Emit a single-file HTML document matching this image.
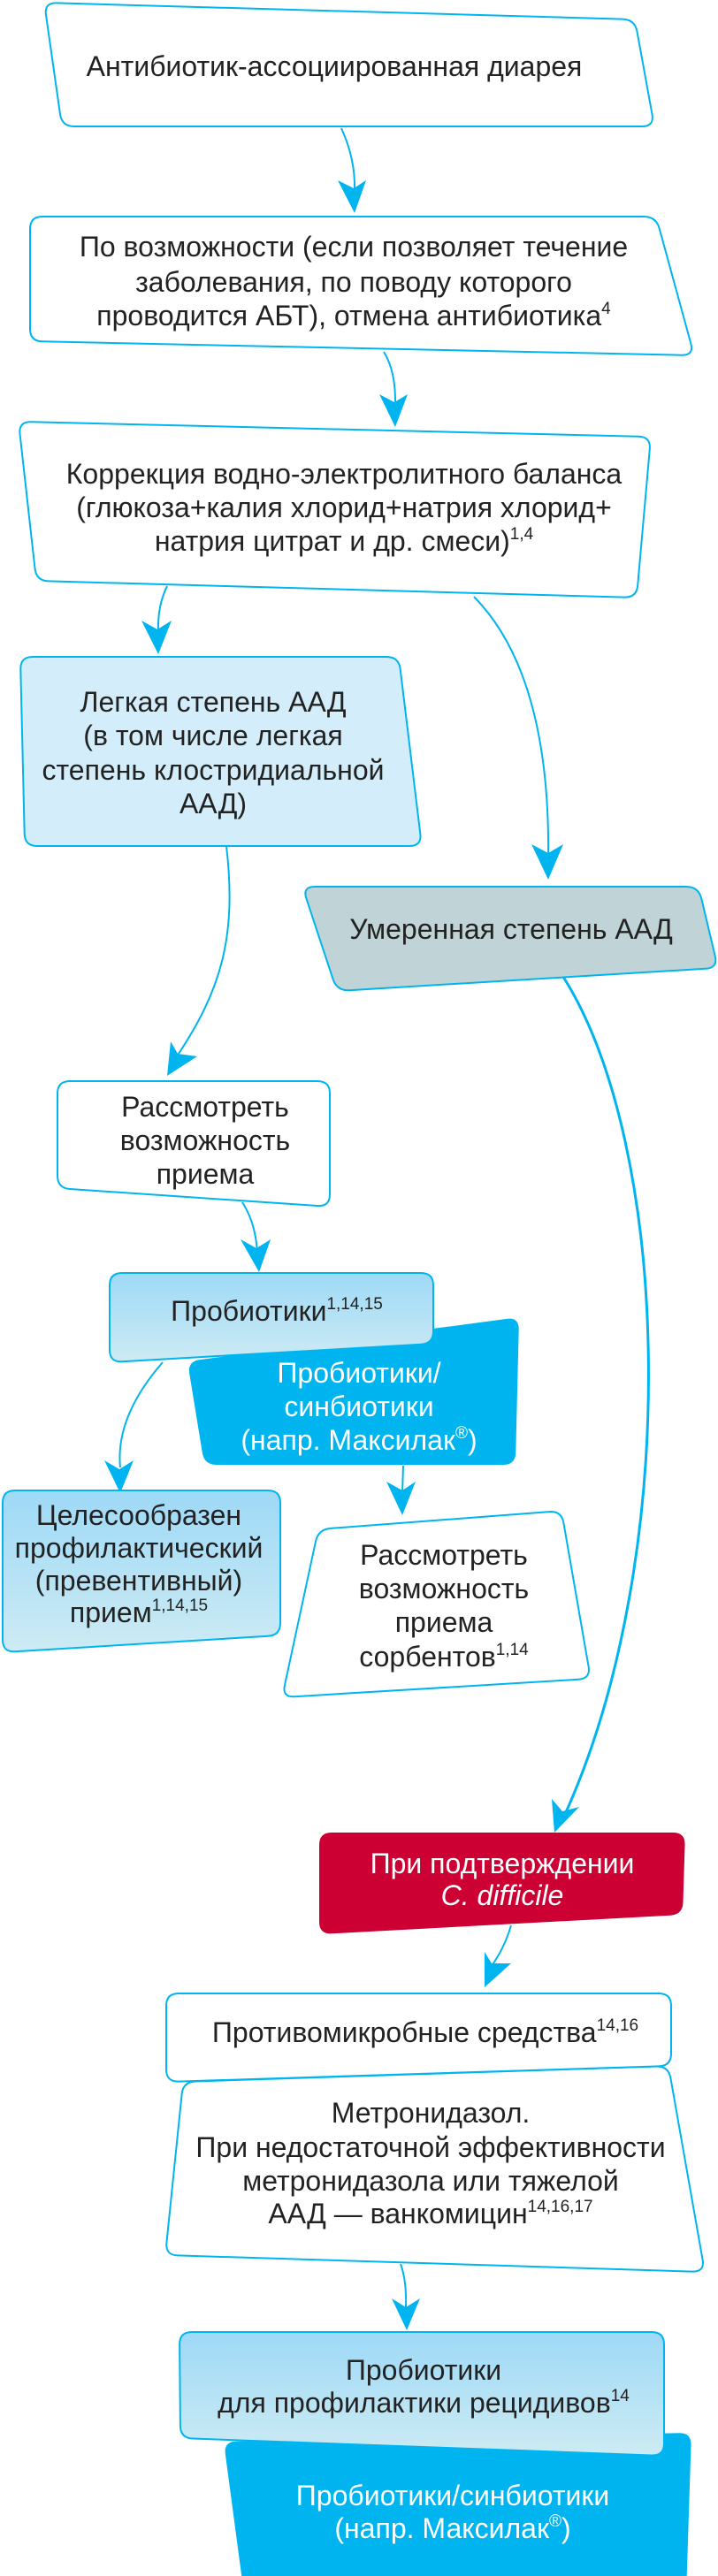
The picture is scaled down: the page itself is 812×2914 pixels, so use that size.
<!DOCTYPE html>
<html><head><meta charset="utf-8"><style>
html,body{margin:0;padding:0;background:#fff;}
svg{display:block;}
text{font-family:"Liberation Sans",sans-serif;font-size:32px;fill:#222;text-anchor:middle;}
.w{fill:#fff;}
.s{font-size:19px;}
.b{stroke:#00b5ef;stroke-width:2;stroke-linejoin:round;}
.ln{fill:none;stroke:#00b5ef;stroke-width:2;}
.hd{fill:#00b5ef;}
</style></head><body>
<svg width="812" height="2914" viewBox="0 0 812 2914" xmlns="http://www.w3.org/2000/svg">
<defs>
<linearGradient id="g" x1="0" y1="0" x2="0" y2="1"><stop offset="0" stop-color="#9ed9f7"/><stop offset="1" stop-color="#cdebf3"/></linearGradient>
</defs>
<path class="ln" d="M386,145 Q402,180 401,215"/><polygon class="hd" points="401,241 382,204 400,213 414,204"/>
<path class="ln" d="M434,398 Q448,420 447,460"/><polygon class="hd" points="447,483 429,446 446,455 461,446"/>
<path class="ln" d="M189,663 Q178,685 179,715"/><polygon class="hd" points="179,740 160,702 178,712 194,702"/>
<path class="ln" d="M536,675 C600,740 622,850 620,975"/><polygon class="hd" points="620,995 601,955 620,965 637,955"/>
<path class="ln" d="M256,957 C268,1060 250,1120 200,1195"/><polygon class="hd" points="189,1217 193,1178 201,1192 223,1195"/>
<path class="ln" style="stroke-width:3" d="M637,1105 C760,1300 770,1760 640,2050"/><polygon class="hd" points="627,2073 624,2035 636,2049 655,2044"/>
<path class="ln" d="M274,1360 Q290,1385 291,1420"/><polygon class="hd" points="293,1439 272,1402 290,1412 306,1402"/>
<path class="ln" d="M184,1541 C150,1580 132,1620 136,1660"/><polygon class="hd" points="136,1689 118,1652 135,1662 151,1652"/>
<path class="ln" d="M456,1658 L455,1690"/><polygon class="hd" points="455,1714 437,1676 455,1686 470,1676"/>
<path class="ln" d="M578,2178 Q570,2205 555,2225"/><polygon class="hd" points="548,2248 548,2208 556,2221 578,2221"/>
<path class="ln" d="M453,2561 Q460,2580 459,2610"/><polygon class="hd" points="460,2636 443,2600 459,2610 475,2600"/>

<polygon class="b r" fill="#fff" points="50,3 718,22 740,143 70,143"/>
<text x="378" y="86">Антибиотик-ассоциированная диарея</text>

<polygon class="b r" fill="#fff" points="34,245 742,245 785,402 34,386"/>
<text x="400" y="290">По возможности (если позволяет течение</text>
<text x="400" y="330">заболевания, по поводу которого</text>
<text x="400" y="368">проводится АБТ), отмена антибиотика<tspan class="s" dy="-13">4</tspan></text>

<polygon class="b r" fill="#fff" points="21,477 736,494 720,676 41,657"/>
<text x="389" y="547">Коррекция водно-электролитного баланса</text>
<text x="389" y="585">(глюкоза+калия хлорид+натрия хлорид+</text>
<text x="389" y="623">натрия цитрат и др. смеси)<tspan class="s" dy="-13">1,4</tspan></text>

<polygon class="b r" fill="#d3eefa" points="23,743 451,743 477,957 28,957"/>
<text x="241" y="805">Легкая степень ААД</text>
<text x="241" y="843">(в том числе легкая</text>
<text x="241" y="882">степень клостридиальной</text>
<text x="241" y="920">ААД)</text>

<polygon class="b r" fill="#c0d3d6" points="342,1003 790,1003 812,1095 381,1121"/>
<text x="578" y="1062">Умеренная степень ААД</text>

<polygon class="b r" fill="#fff" points="65,1223 373,1223 373,1365 65,1344"/>
<text x="232" y="1263">Рассмотреть</text>
<text x="232" y="1301">возможность</text>
<text x="232" y="1339">приема</text>

<polygon class="r" fill="#00b5ef" points="212,1540 587,1490 583,1657 231,1657"/>
<text class="w" x="406" y="1564">Пробиотики/</text>
<text class="w" x="406" y="1602">синбиотики</text>
<text class="w" x="406" y="1640">(напр. Максилак<tspan class="s" dy="-13">®</tspan><tspan dy="13">)</tspan></text>

<polygon class="b r" fill="url(#g)" points="124,1440 490,1440 490,1520 124,1541"/>
<text x="313" y="1494">Пробиотики<tspan class="s" dy="-13">1,14,15</tspan></text>

<polygon class="b r" fill="url(#g)" points="3,1686 317,1686 317,1850 3,1869"/>
<text x="157" y="1725">Целесообразен</text>
<text x="157" y="1762">профилактический</text>
<text x="157" y="1799">(превентивный)</text>
<text x="157" y="1835">прием<tspan class="s" dy="-13">1,14,15</tspan></text>

<polygon class="b r" fill="#fff" points="360,1730 635,1709 668,1899 319,1920"/>
<text x="502" y="1770">Рассмотреть</text>
<text x="502" y="1808">возможность</text>
<text x="502" y="1846">приема</text>
<text x="502" y="1885">сорбентов<tspan class="s" dy="-13">1,14</tspan></text>

<polygon class="r" fill="#cc0033" points="361,2073 775,2073 772,2166 361,2188"/>
<text class="w" x="568" y="2119">При подтверждении</text>
<text class="w" x="568" y="2155" font-style="italic">C. difficile</text>

<polygon class="b r" fill="#fff" points="207,2355 756,2337 797,2570 187,2551"/>
<text x="487" y="2401">Метронидазол.</text>
<text x="487" y="2440">При недостаточной эффективности</text>
<text x="487" y="2478">метронидазола или тяжелой</text>
<text x="487" y="2515">ААД — ванкомицин<tspan class="s" dy="-13">14,16,17</tspan></text>

<polygon class="b r" fill="#fff" points="188,2255 759,2255 759,2337 188,2355"/>
<text x="481" y="2310">Противомикробные средства<tspan class="s" dy="-13">14,16</tspan></text>

<polygon class="r" fill="#00b5ef" points="253,2762 782,2752 776,2935 276,2935"/>
<text class="w" x="512" y="2834">Пробиотики/синбиотики</text>
<text class="w" x="512" y="2871">(напр. Максилак<tspan class="s" dy="-13">®</tspan><tspan dy="13">)</tspan></text>

<polygon class="b r" fill="url(#g)" points="203,2638 751,2638 751,2778 204,2758"/>
<text x="479" y="2692">Пробиотики</text>
<text x="479" y="2729">для профилактики рецидивов<tspan class="s" dy="-13">14</tspan></text>
</svg>
<script>
(function(){
var ns="http://www.w3.org/2000/svg";
var ps=document.querySelectorAll("polygon.r");
for(var i=0;i<ps.length;i++){
 var p=ps[i];var a=p.getAttribute("points").trim().split(/\s+/).map(function(s){var q=s.split(",");return [+q[0],+q[1]];});
 var n=a.length,r=14,d="";
 for(var k=0;k<n;k++){
  var c=a[k],pr=a[(k-1+n)%n],nx=a[(k+1)%n];
  var v1=[pr[0]-c[0],pr[1]-c[1]],v2=[nx[0]-c[0],nx[1]-c[1]];
  var l1=Math.hypot(v1[0],v1[1]),l2=Math.hypot(v2[0],v2[1]);
  var rr=Math.min(r,l1/2,l2/2);
  var s=[c[0]+v1[0]/l1*rr,c[1]+v1[1]/l1*rr],e=[c[0]+v2[0]/l2*rr,c[1]+v2[1]/l2*rr];
  d+=(k==0?"M":"L")+s[0].toFixed(1)+","+s[1].toFixed(1)+"Q"+c[0]+","+c[1]+" "+e[0].toFixed(1)+","+e[1].toFixed(1);
 }
 d+="Z";
 var path=document.createElementNS(ns,"path");
 path.setAttribute("d",d);
 ["class","fill","style"].forEach(function(at){if(p.getAttribute(at))path.setAttribute(at,p.getAttribute(at));});
 p.parentNode.replaceChild(path,p);
}
})();
</script>
</body></html>
